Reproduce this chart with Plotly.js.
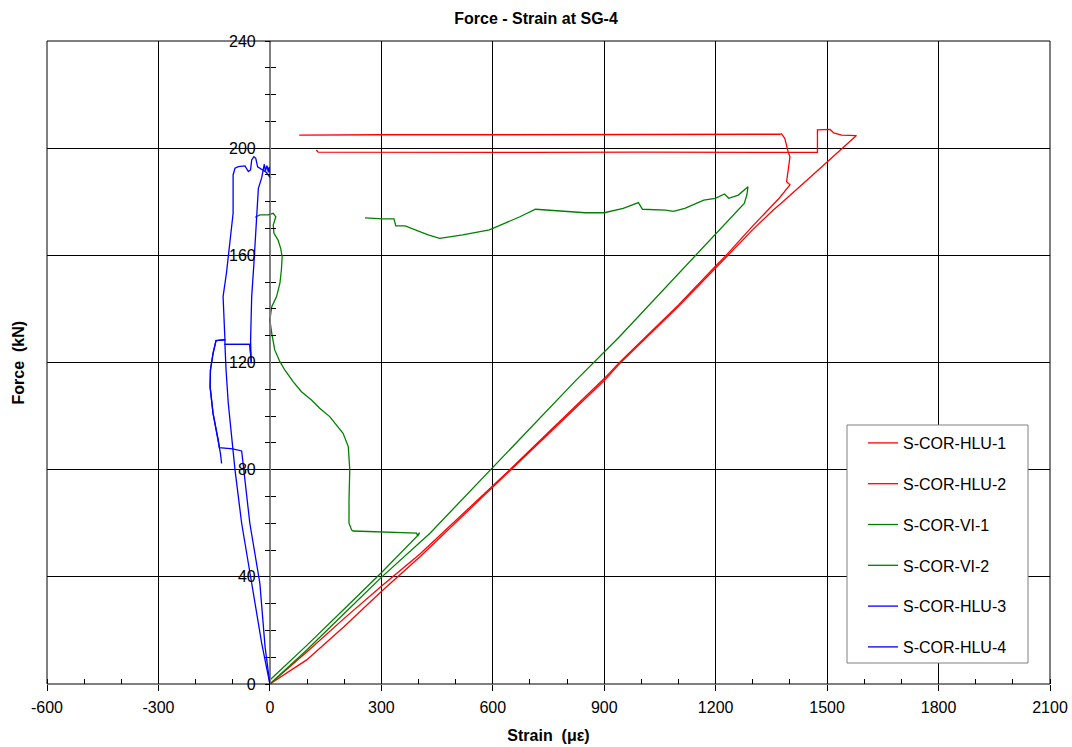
<!DOCTYPE html>
<html>
<head>
<meta charset="utf-8">
<script src="https://cdn.plot.ly/plotly-3.0.1.min.js"></script>
<style>html,body{margin:0;padding:0;background:#fff}</style>
</head>
<body>
<div id="chart" style="width:1072px;height:747px"></div>
<script>
// ---- data (strain in microstrain, force in kN) ----
const seriesNames = ['S-COR-HLU-1','S-COR-HLU-2','S-COR-VI-1','S-COR-VI-2','S-COR-HLU-3','S-COR-HLU-4'];

const hlu1Strain = [0, 50, 100, 200, 300, 404, 500, 600, 650, 750, 900, 941, 1000, 1100, 1200, 1228, 1300, 1346, 1371, 1400, 1391, 1400, 1395, 1386, 1377, 1373, 1200, 900, 600, 300, 79];
const hlu1Force  = [0, 6, 12, 24.5, 36.5, 48.5, 61, 74, 80.5, 94, 114, 120, 128, 141.5, 156, 160, 171, 177.5, 181.3, 186.3, 187.5, 196.8, 198.7, 203.7, 205.4, 205.2, 205.1, 205.1, 205, 205, 204.9];

const hlu2Strain = [0, 50, 99, 200, 300, 404, 500, 600, 650, 750, 900, 941, 1000, 1100, 1200, 1228, 1300, 1355, 1371, 1450, 1500, 1579, 1539, 1518, 1508, 1474, 1474, 1300, 1000, 700, 400, 130, 125];
const hlu2Force  = [0, 4.5, 9, 21.5, 34.5, 47.5, 60.3, 73.5, 80, 93.4, 113.3, 119.5, 127.6, 141, 155.3, 159.3, 169.6, 176.9, 178.8, 188.6, 194.9, 204.7, 204.9, 205.7, 207, 206.8, 198.4, 198.5, 198.5, 198.4, 198.4, 198.5, 199.3];

const vi1Strain = [0, 100, 200, 300, 395, 403, 398, 395, 330, 260, 224, 220, 213, 213, 215, 211, 197, 161, 134, 112, 85, 63, 40, 27, 13, 5, 0, 5, 18, 27, 31, 33, 29, 22, 11, 9, 16, 9, -5, -27, -40];
const vi1Force  = [1.5, 14.5, 28, 41.5, 55, 56.5, 55.2, 56.3, 56.6, 56.9, 57.1, 57.5, 60, 68.7, 80, 88.6, 93.6, 99.8, 102.9, 106, 109.1, 112.8, 117.2, 120.3, 124.7, 130.9, 135.9, 140.8, 144.6, 149.6, 154.5, 159.5, 162.6, 165.7, 168.2, 171.3, 174.4, 175.7, 175.1, 175.1, 174.2];

const vi2Strain = [0, 100, 200, 300, 431, 600, 825, 941, 1147, 1200, 1277, 1284, 1287, 1261, 1235, 1224, 1199, 1168, 1117, 1086, 1065, 1003, 992, 951, 900, 849, 746, 715, 673, 591, 519, 457, 426, 380, 364, 339, 334, 303, 256];
const vi2Force  = [0, 12.8, 26.3, 39.8, 56.3, 80.9, 113.5, 129.6, 160, 168.2, 179.4, 182.5, 185.6, 182.5, 181.3, 182.9, 181.3, 180.6, 177.5, 176.4, 176.9, 177.2, 179.7, 177.5, 175.9, 175.9, 176.9, 177.2, 174.4, 169.5, 167.6, 166.3, 167.6, 170.1, 171, 171, 173.6, 173.6, 174];

const hlu3Strain = [0, -22, -49, -76, -94, -103, -112, -118, -121, -54, -50, -52, -49, -43, -36, -31, -22, -18, -15, -12, -8, -4, -2, 2, -10, -33, -36, -38, -43, -49, -52, -58, -67, -85, -94, -99, -99, -108, -117, -126, -123, -121, -145, -153, -160, -161, -153, -139, -133, -130];
const hlu3Force  = [0, 15.2, 37.6, 60, 80, 92.3, 104.8, 117.2, 126.8, 126.8, 119.7, 128, 144.6, 157, 175.7, 185, 189, 191.3, 194, 191.5, 193.5, 191, 193, 188.8, 191, 193, 194.4, 196.2, 196.8, 195.6, 191.9, 191.3, 193.4, 193.1, 192.5, 190, 175.7, 163.3, 153.3, 144.6, 136, 128.5, 128.2, 123.4, 117.2, 111, 101, 91.1, 86, 82.3];

const hlu4Strain = [0, -13, -27, -54, -76, -100, -136, -139, -153, -161, -160, -153, -145, -121, -121, -54, -50];
const hlu4Force  = [0, 13.9, 37.6, 60, 87, 87.8, 88.2, 91.1, 101, 111, 117.2, 123.4, 128.2, 128.5, 126.8, 126.8, 119.7];

const seriesColors = ['#FF0000', '#FF0000', '#008000', '#008000', '#0000FF', '#0000FF'];

const xStrainTicks = [-600, -300, 0, 300, 600, 900, 1200, 1500, 1800, 2100];
const xStrainLabels = ['-600', '-300', '0', '300', '600', '900', '1200', '1500', '1800', '2100'];
const yForceTicks = [0, 40, 80, 120, 160, 200, 240];

// ---- build traces ----
const xs = [hlu1Strain, hlu2Strain, vi1Strain, vi2Strain, hlu3Strain, hlu4Strain];
const ys = [hlu1Force, hlu2Force, vi1Force, vi2Force, hlu3Force, hlu4Force];
const traces = seriesNames.map((n, i) => ({
  type: 'scatter', mode: 'lines', name: n,
  x: xs[i], y: ys[i],
  line: {color: seriesColors[i], width: 1.3},
  legendgroup: 'g' + i,
  hoverinfo: 'skip'
}));

const FONT = 'Arial, "Liberation Sans", sans-serif';
const yPos = (0 - (-600)) / (2100 - (-600));

const layout = {
  width: 1072, height: 747,
  margin: {l: 47, r: 22, t: 41, b: 63},
  paper_bgcolor: '#fff', plot_bgcolor: '#fff',
  font: {family: FONT, size: 16, color: '#000'},
  showlegend: true,
  title: {text: 'Force - Strain at SG-4', font: {family: FONT, size: 16, weight: 'bold', color: '#000'},
          x: 0.5, xref: 'container', y: 1 - 18/747, yref: 'container', yanchor: 'middle'},
  xaxis: {
    range: [-600, 2100], tickvals: xStrainTicks, ticktext: xStrainLabels,
    ticks: 'outside', ticklen: 6, tickcolor: '#000', tickwidth: 1,
    showgrid: true, gridcolor: '#000', gridwidth: 1,
    zeroline: true, zerolinecolor: '#808080', zerolinewidth: 1.5,
    showline: false,
    minor: {dtick: 100, tick0: 0, ticks: 'inside', ticklen: 5, tickcolor: '#000', showgrid: false},
    tickfont: {family: FONT, size: 16},
    ticklabelstandoff: 3,
    title: {text: 'Strain \u00a0(\u03bc\u03b5)', font: {family: FONT, size: 16, weight: 'bold'}, standoff: 14},
    fixedrange: true, automargin: false
  },
  yaxis: {
    range: [0, 240], tickvals: yForceTicks, anchor: 'free', position: yPos,
    ticks: 'outside', ticklen: 5, tickcolor: '#000',
    showgrid: true, gridcolor: '#000', gridwidth: 1,
    zeroline: false, showline: true, linecolor: '#808080', linewidth: 1.5,
    minor: {dtick: 10, tick0: 0, ticks: 'outside', ticklen: 5, tickcolor: '#000', showgrid: false},
    tickfont: {family: FONT, size: 16},
    ticklabelstandoff: 6,
    fixedrange: true, automargin: false
  },
  yaxis2: {
    overlaying: 'y', range: [0, 240], anchor: 'free', position: yPos,
    showgrid: false, zeroline: false, showline: false, showticklabels: false,
    ticks: 'inside', ticklen: 5, dtick: 10, tick0: 0, tickcolor: '#000',
    fixedrange: true, automargin: false
  },
  legend: {
    x: (863 - 47) / 1003, xanchor: 'left', y: (684 - 426) / 643, yanchor: 'top',
    bgcolor: 'rgba(0,0,0,0)', borderwidth: 0,
    font: {family: FONT, size: 16, color: '#000'},
    traceorder: 'grouped', tracegroupgap: 17, itemwidth: 30
  },
  shapes: [
    {type: 'rect', xref: 'paper', yref: 'paper', x0: 0, x1: 1, y0: 0, y1: 1,
     line: {color: '#000', width: 1}, fillcolor: 'rgba(0,0,0,0)', layer: 'above'},
    {type: 'rect', xref: 'paper', yref: 'paper',
     x0: (847 - 47) / 1003, x1: (1028 - 47) / 1003, y0: (684 - 663) / 643, y1: (684 - 425) / 643,
     line: {color: '#808080', width: 1}, fillcolor: '#fff', layer: 'above'}
  ],
  annotations: [
    {text: 'Force \u00a0(kN)', xref: 'paper', yref: 'paper', x: (18 - 47) / 1003, y: 0.5,
     textangle: -90, showarrow: false, xanchor: 'center', yanchor: 'middle',
     font: {family: FONT, size: 16, weight: 'bold', color: '#000'}}
  ],
  hovermode: false
};

// invisible helper trace so that yaxis2 (the right-hand half of the crossing ticks) is drawn
traces.push({type: 'scatter', mode: 'lines', x: [0], y: [0], yaxis: 'y2', showlegend: false,
             line: {color: 'rgba(0,0,0,0)'}, hoverinfo: 'skip'});

Plotly.newPlot('chart', traces, layout, {displayModeBar: false, staticPlot: true});
</script>
</body>
</html>
